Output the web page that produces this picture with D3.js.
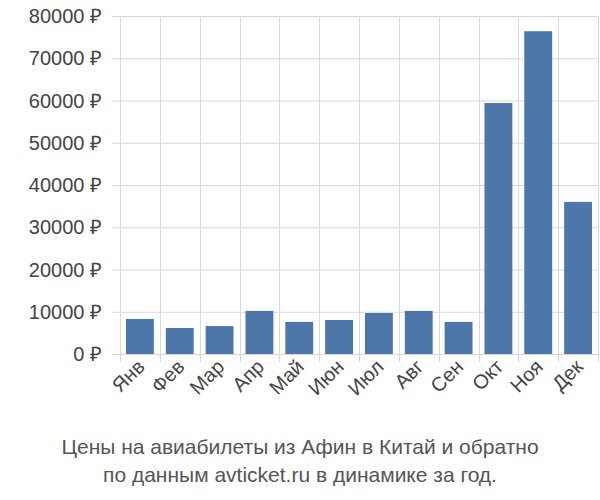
<!DOCTYPE html>
<html><head><meta charset="utf-8">
<script src="https://cdn.jsdelivr.net/npm/d3@7"></script>
<style>body{margin:0;background:#fff}text{font-family:"Liberation Sans",Arial,sans-serif}</style>
</head><body><svg id="chart" width="600" height="500"></svg>
<script>
var months = ["Янв","Фев","Мар","Апр","Май","Июн","Июл","Авг","Сен","Окт","Ноя","Дек"];
var prices = [8300,6150,6600,10200,7600,8050,9700,10200,7600,59400,76400,36000];
var yTicks = [0,10000,20000,30000,40000,50000,60000,70000,80000];
var titleLines = ["Цены на авиабилеты из Афин в Китай и обратно","по данным avticket.ru в динамике за год."];

var svg = d3.select("#chart");
var plotLeft = 120, plotRight = 598, plotTop = 16, plotBottom = 354;

var x = d3.scaleBand().domain(months).range([plotLeft, plotRight]).paddingInner(0.3).paddingOuter(0.15);
var xg = d3.scaleBand().domain(months).range([plotLeft, plotRight]);
var y = d3.scaleLinear().domain([0, 80000]).range([plotBottom, plotTop]);

//Horizontal grid lines with small tick stubs.
svg.selectAll(".hg").data(yTicks).enter().append("line")
  .attr("x1", plotLeft - 8).attr("x2", plotRight)
  .attr("y1", function (d) { return y(d) + 0.5; }).attr("y2", function (d) { return y(d) + 0.5; })
  .attr("stroke", "#d8d8d8");

//Vertical grid lines at band edges.
svg.selectAll(".vg").data(months.concat([null])).enter().append("line")
  .attr("x1", function (d, i) { return Math.round(plotLeft + i * xg.step()) + 0.5; })
  .attr("x2", function (d, i) { return Math.round(plotLeft + i * xg.step()) + 0.5; })
  .attr("y1", plotTop).attr("y2", plotBottom + 8)
  .attr("stroke", "#d8d8d8");

svg.selectAll(".bar").data(prices).enter().append("rect")
  .attr("x", function (d, i) { return x(months[i]); })
  .attr("width", x.bandwidth())
  .attr("y", function (d) { return y(d); })
  .attr("height", function (d) { return plotBottom - y(d); })
  .attr("fill", "#4d77a8");

svg.selectAll(".yl").data(yTicks).enter().append("text")
  .attr("x", 102).attr("y", function (d) { return y(d) + 7; })
  .attr("text-anchor", "end").attr("font-size", 20).attr("fill", "#444")
  .text(function (d) { return d + " ₽"; });

svg.selectAll(".xl").data(months).enter().append("text")
  .attr("transform", function (d) { return "translate(" + (xg(d) + xg.step() / 2 + 6) + "," + (plotBottom + 14) + ") rotate(-45)"; })
  .attr("text-anchor", "end").attr("font-size", 20).attr("fill", "#444")
  .text(function (d) { return d; });

svg.selectAll(".title").data(titleLines).enter().append("text")
  .attr("x", 300).attr("y", function (d, i) { return 454 + i * 28; })
  .attr("text-anchor", "middle").attr("font-size", 21).attr("fill", "#555")
  .text(function (d) { return d; });
</script></body></html>
